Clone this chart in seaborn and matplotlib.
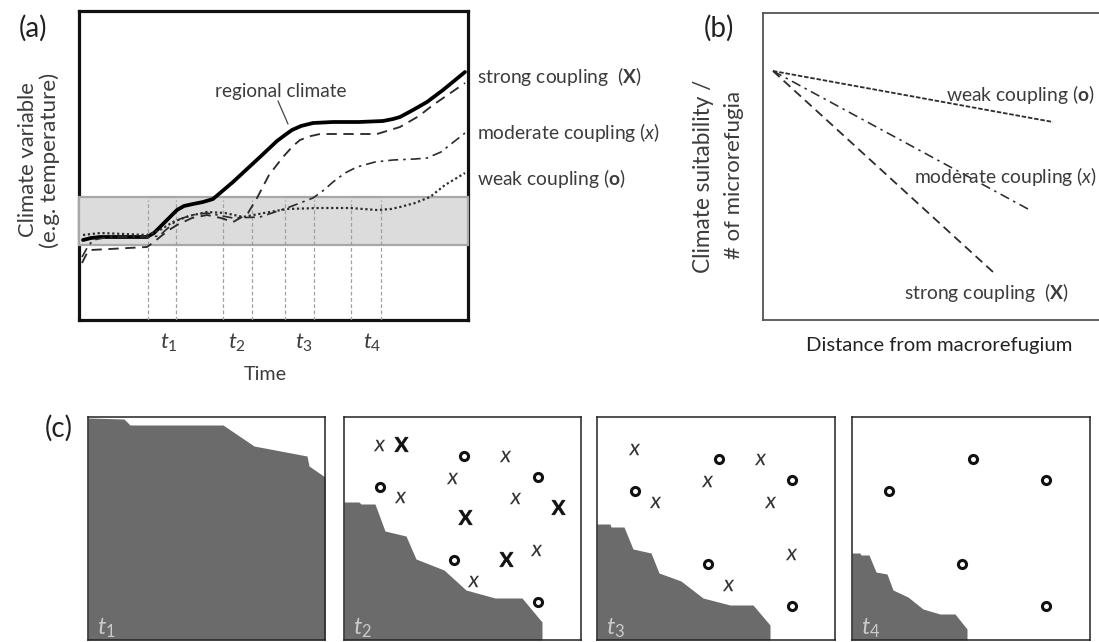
import matplotlib
matplotlib.use("Agg")
import matplotlib.pyplot as plt
import seaborn as sns

sns.set_theme(style="white")
plt.rcParams['font.family'] = ['Lato', 'DejaVu Sans']
plt.rcParams['mathtext.fontset'] = 'custom'
plt.rcParams['mathtext.rm'] = 'Lato'
plt.rcParams['mathtext.it'] = 'Lato:italic'
plt.rcParams['mathtext.bf'] = 'Lato:bold'

W, H = 1099, 642
TXT = '#3c3c3c'

# panel a, values
regional_x = [4, 12, 21, 45, 68, 75, 81, 90, 98, 105, 114, 124, 134, 154, 181, 198, 206, 213, 222, 234, 254, 280, 304, 314, 321, 334, 348, 364, 386]
regional_y = [80, 82, 83, 83, 83, 87, 93, 102, 110, 114, 116, 118, 121, 138, 163, 179, 185, 190, 194, 197, 198, 198, 199, 201, 203, 210, 218, 230, 248]
strong_x = [3, 7, 11, 31, 68, 75, 81, 90, 98, 113, 128, 142, 154, 163, 169, 178, 190, 204, 214, 221, 232, 241, 270, 298, 321, 340, 354, 386]
strong_y = [57, 65, 70, 71, 73, 78, 83, 90, 95, 102, 105, 102, 98, 103, 107, 122, 145, 163, 174, 180, 184, 186, 186, 186, 193, 204, 215, 237]
moderate_x = [3, 8, 14, 30, 68, 80, 98, 113, 128, 154, 181, 208, 234, 245, 254, 266, 278, 296, 314, 336, 348, 362, 386]
moderate_y = [63, 72, 80, 83, 83, 84, 100, 105, 107, 102, 103, 112, 122, 130, 138, 147, 153, 158, 160, 161, 162, 168, 187]
weak_x = [4, 21, 45, 68, 81, 94, 110, 128, 146, 164, 185, 208, 240, 271, 298, 312, 321, 336, 351, 366, 386]
weak_y = [85, 87, 86, 85, 90, 98, 104, 108, 107, 103, 107, 111, 112, 112, 110, 111, 113, 117, 123, 135, 147]
band_limits = [75, 123]
window_edges = [69, 97, 144, 173, 206, 235, 272, 302]
window_labels = ['$t_1$', '$t_2$', '$t_3$', '$t_4$']
window_label_x = [90, 158, 225, 293]

# panel b
start_xy = [10, 249]
weak_end = [290, 198]
moderate_end = [265, 111]
strong_end = [230, 48]

# panel c, upper edge of the dark area per time slice
edge1_x = [0, 36, 42, 135, 166, 219, 221, 237]
edge1_y = [222, 221, 215, 215, 194, 184, 174, 163]
edge2_x = [0, 15, 17, 31, 41, 62, 72, 100, 122, 151, 178, 198, 198]
edge2_y = [138, 138, 136, 136, 109, 104, 81, 70, 50, 42, 42, 18, 0]
edge3_x = [0, 13, 14, 27, 36, 54, 62, 84, 106, 133, 156, 173, 173]
edge3_y = [116, 116, 113, 113, 91, 87, 67, 59, 42, 35, 35, 15, 0]
edge4_x = [0, 8, 9, 17, 24, 35, 41, 56, 71, 88, 103, 115, 115]
edge4_y = [87, 87, 85, 85, 68, 66, 50, 43, 31, 26, 26, 11, 0]

big_x2 = [57, 121, 162, 214]
big_y2 = [196, 123, 81, 133]
o_x2 = [36, 120, 194, 110, 194]
o_y2 = [153, 184, 163, 80, 38]
small_x2 = [35, 56, 108, 161, 171, 192, 129]
small_y2 = [195, 143, 162, 184, 142, 90, 59]
o_x3 = [38, 122, 195, 111, 195]
o_y3 = [149, 181, 160, 76, 34]
small_x3 = [37, 58, 110, 163, 173, 194, 131]
small_y3 = [191, 138, 159, 181, 138, 86, 55]
o_x4 = [37, 121, 194, 110, 194]
o_y4 = [149, 181, 160, 76, 34]


def make_axes(x0, y0, x1, y1, lw, color):
    ax = fig.add_axes([x0 / W, 1 - y1 / H, (x1 - x0) / W, (y1 - y0) / H])
    ax.set_xlim(0, x1 - x0)
    ax.set_ylim(0, y1 - y0)
    ax.set_xticks([])
    ax.set_yticks([])
    for s in ax.spines.values():
        s.set_linewidth(lw)
        s.set_color(color)
    return ax


def label(x, y, s, size=13.9, **kw):
    kw.setdefault('color', TXT)
    fig.text(x / W, 1 - y / H, s, fontsize=size, va='center', **kw)


fig = plt.figure(figsize=(W / 100, H / 100), dpi=100)

# (a)
ax = make_axes(79, 11, 468, 320, 2.3, '#111111')
ax.axhspan(band_limits[0], band_limits[1], facecolor='#dcdcdc', edgecolor='#a8a8a8', lw=1.6, zorder=3, clip_on=False)
for xe in window_edges:
    ax.plot([xe, xe], [0, 120], color='#a0a0a0', lw=0.9, ls=(0, (3, 2)), zorder=3.5)
for a, b in zip(window_edges[::2], window_edges[1::2]):
    ax.plot([a, b], [123, 123], color='#a0a0a0', lw=0.8, ls=(0, (3, 1)), zorder=3.5)

sns.lineplot(x=regional_x, y=regional_y, ax=ax, color='black', lw=2.7, sort=False, zorder=5)
sns.lineplot(x=strong_x, y=strong_y, ax=ax, color='#2c2c2c', lw=1.35, sort=False, ls=(0, (5.5, 3.5)), zorder=5)
sns.lineplot(x=moderate_x, y=moderate_y, ax=ax, color='#2c2c2c', lw=1.2, sort=False, ls=(0, (6, 3, 1.5, 3)), zorder=5)
sns.lineplot(x=weak_x, y=weak_y, ax=ax, color='#2c2c2c', lw=1.6, sort=False, ls=(0, (1, 1.2)), zorder=5)
ax.plot([199, 209], [219, 196], color='#444444', lw=0.9, zorder=5)
ax.text(136, 229, 'regional climate', fontsize=13.7, color=TXT, va='center')
for xl, tl in zip(window_label_x, window_labels):
    ax.text(xl, -23, tl, fontsize=16, color=TXT, ha='center', va='center', clip_on=False)
ax.set_ylim(0, 309)
ax.set_xlim(0, 389)

label(19, 28, '(a)', size=20, color='#222222')
label(28, 160, 'Climate variable', size=15.8, rotation=90, ha='center')
label(50, 160, '(e.g. temperature)', size=16.2, rotation=90, ha='center')
label(265, 375, 'Time', size=14.2, ha='center')
label(477, 77, r'strong coupling  ($\mathbf{X}$)')
label(477, 133, r'moderate coupling ($\mathit{x}$)')
label(477, 179, r'weak coupling ($\mathbf{o}$)')

# (b)
ax = make_axes(763, 13, 1104, 320, 1.3, '#555555')
sns.lineplot(x=[start_xy[0], weak_end[0]], y=[start_xy[1], weak_end[1]], ax=ax, color='#2c2c2c', lw=1.3, ls=(0, (2.5, 1)))
sns.lineplot(x=[start_xy[0], moderate_end[0]], y=[start_xy[1], moderate_end[1]], ax=ax, color='#2c2c2c', lw=1.15, ls=(0, (6, 3, 1.5, 3)))
sns.lineplot(x=[start_xy[0], strong_end[0]], y=[start_xy[1], strong_end[1]], ax=ax, color='#2c2c2c', lw=1.3, ls=(0, (5, 3)))
label(946, 94, r'weak coupling ($\mathbf{o}$)')
label(914, 176, r'moderate coupling ($\mathit{x}$)')
label(904, 292, r'strong coupling  ($\mathbf{X}$)')
label(704, 28, '(b)', size=20, color='#222222')
label(704, 176, 'Climate suitability /', size=16.3, rotation=90, ha='center')
label(734, 175, '# of microrefugia', size=16, rotation=90, ha='center')
label(939, 346, 'Distance from macrorefugium', size=14.6, ha='center', color='#222222')

# (c)
label(45, 428, '(c)', size=20, color='#222222')
boxes = [(88, 325), (344, 581), (597, 835), (852, 1090)]
edges = [(edge1_x, edge1_y), (edge2_x, edge2_y), (edge3_x, edge3_y), (edge4_x, edge4_y)]
names = ['$t_1$', '$t_2$', '$t_3$', '$t_4$']
big = [None, (big_x2, big_y2), None, None]
circles = [None, (o_x2, o_y2), (o_x3, o_y3), (o_x4, o_y4)]
small = [None, (small_x2, small_y2), (small_x3, small_y3), None]
for i in range(4):
    ax = make_axes(boxes[i][0], 417, boxes[i][1], 640, 1.1, '#222222')
    ex, ey = edges[i]
    ax.fill_between(ex, ey, 0, color='#6b6b6b', lw=0, zorder=1)
    ax.text(9, 12, names[i], fontsize=17, color='#cacaca', va='center', zorder=3)
    if big[i]:
        sns.scatterplot(x=big[i][0], y=big[i][1], ax=ax, marker=r'$\mathbf{X}$', s=110, color='#111111', edgecolor='#111111', linewidth=0.5, zorder=4)
    if circles[i]:
        sns.scatterplot(x=circles[i][0], y=circles[i][1], ax=ax, marker='o', s=34, facecolor='white', edgecolor='#111111', linewidth=2.2, zorder=4)
    if small[i]:
        sns.scatterplot(x=small[i][0], y=small[i][1], ax=ax, marker=r'$\mathit{x}$', s=68, color='#333333', linewidth=0, zorder=4)
    ax.set_xlim(0, boxes[i][1] - boxes[i][0])
    ax.set_ylim(0, 223)

fig.savefig('out.png', dpi=100)
